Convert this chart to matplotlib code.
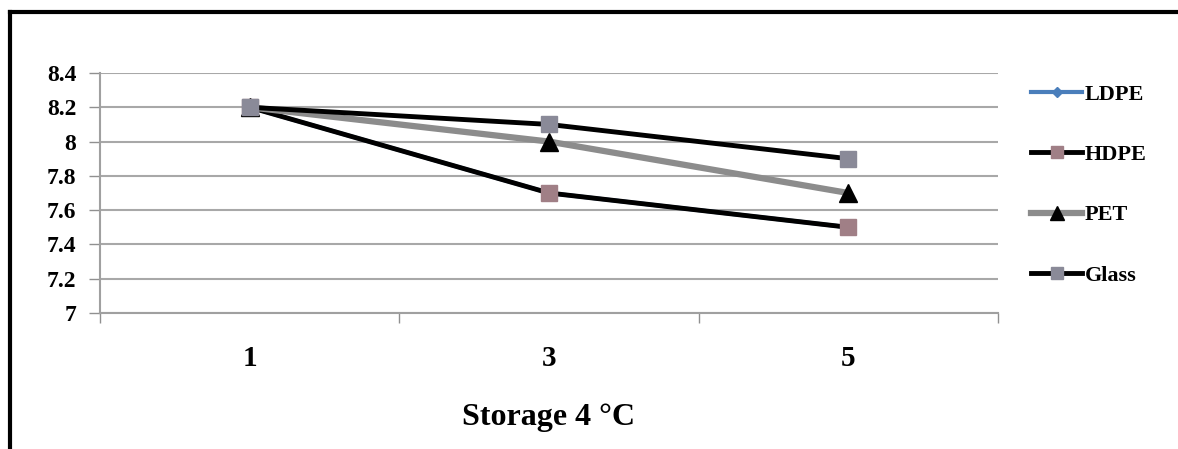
import matplotlib
matplotlib.use("Agg")
import matplotlib.pyplot as plt
from matplotlib.lines import Line2D

plt.rcParams['font.family'] = ['Liberation Serif', 'DejaVu Serif']
plt.rcParams['font.weight'] = 'bold'

# data
days = ["1", "3", "5"]
ldpe = [8.2, 7.7, 7.5]
hdpe = [8.2, 7.7, 7.5]
pet = [8.2, 8.0, 7.7]
glass = [8.2, 8.1, 7.9]
yticks = [7, 7.2, 7.4, 7.6, 7.8, 8, 8.2, 8.4]
ytick_labels = ["7", "7.2", "7.4", "7.6", "7.8", "8", "8.2", "8.4"]

W, H = 1178, 449
fig = plt.figure(figsize=(W / 100, H / 100), dpi=100)
ax = fig.add_axes([100 / W, (H - 313) / H, 898 / W, 240 / H])

x = range(len(days))
ax.plot(x, ldpe, color="#4a7ebb", lw=3, marker="D", ms=7, label="LDPE", zorder=3)
ax.plot(x, hdpe, color="black", lw=3.5, marker="s", ms=11,
        mfc="#a07f86", mec="#a07f86", label="HDPE", zorder=4)
ax.plot(x, pet, color="#8c8c8c", lw=4.5, marker="^", ms=13,
        mfc="black", mec="black", label="PET", zorder=5)
ax.plot(x, glass, color="black", lw=3.5, marker="s", ms=11.5,
        mfc="#8a8a98", mec="#8a8a98", label="Glass", zorder=6)

ax.set_xlim(-0.5, 2.5)
ax.set_ylim(7, 8.4)
ax.set_yticks(yticks)
ax.set_yticklabels(ytick_labels, fontsize=17, fontweight="bold")
ax.set_xticks(list(x))
ax.set_xticklabels(days, fontsize=21, fontweight="bold")
ax.set_xticks([-0.5, 0.5, 1.5, 2.5], minor=True)
ax.tick_params(axis="x", which="major", length=0, pad=23)
ax.tick_params(axis="x", which="minor", length=7, color="#909090", width=1, direction="out")
ax.tick_params(axis="y", length=8, color="#909090", width=1, pad=9)
ax.grid(axis="y", color="#a8a8a8", lw=1.5)
ax.set_axisbelow(True)
for s in ["top", "right"]:
    ax.spines[s].set_visible(False)
for s in ["left", "bottom"]:
    ax.spines[s].set_color("#a0a0a0")
    ax.spines[s].set_linewidth(1.5)

ax.set_xlabel("Storage 4 \u00b0C", fontsize=23, fontweight="bold", labelpad=22)

leg = ax.legend(loc="upper left", bbox_to_anchor=(1020 / W, (H - 73) / H),
                bbox_transform=fig.transFigure, frameon=False,
                prop={"size": 16, "weight": "bold"}, labelspacing=1.79,
                handlelength=2.3, handletextpad=0.1, markerscale=0.75,
                borderpad=0)

# outer frame
fig.add_artist(Line2D([10 / W, 10 / W], [0, (H - 12) / H], color="black", lw=3,
                      transform=fig.transFigure))
fig.add_artist(Line2D([10 / W, 1], [(H - 12) / H, (H - 12) / H], color="black", lw=3,
                      transform=fig.transFigure))

fig.savefig("out.png", dpi=100)
